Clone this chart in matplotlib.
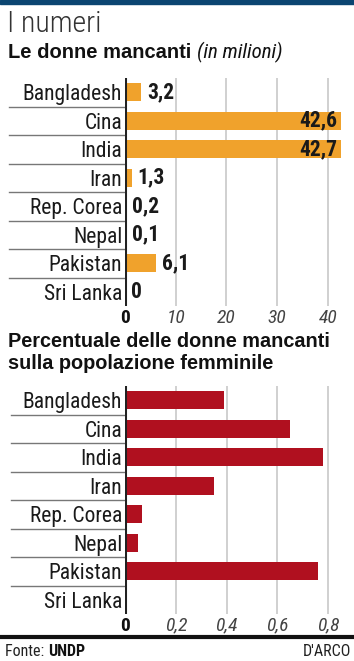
import matplotlib
matplotlib.use("Agg")
import matplotlib.pyplot as plt
import matplotlib.font_manager as fm
import numpy as np

countries = ["Bangladesh", "Cina", "India", "Iran", "Rep. Corea", "Nepal", "Pakistan", "Sri Lanka"]
missing_mln = [3.2, 42.6, 42.7, 1.3, 0.2, 0.1, 6.1, 0.0]
missing_labels = ["3,2", "42,6", "42,7", "1,3", "0,2", "0,1", "6,1", "0"]
missing_pct = [0.39, 0.65, 0.78, 0.35, 0.065, 0.05, 0.76, 0.0]
ticks_top = [0, 10, 20, 30, 40]
ticks_bot = [0, 0.2, 0.4, 0.6, 0.8]
ticklabels_bot = ["0", "0,2", "0,4", "0,6", "0,8"]

# condensed face if we can find one, like the newspaper's Helvetica Condensed
names = {f.name for f in fm.fontManager.ttflist}
FONT = "Liberation Sans"
for cand in ["Roboto Condensed", "Barlow Semi Condensed", "Archivo Narrow",
             "Liberation Sans Narrow", "Asap Condensed"]:
    if cand in names:
        FONT = cand
        break
plt.rcParams["font.family"] = [FONT, "DejaVu Sans"]
HEAD = ["Liberation Sans", "DejaVu Sans"]  # wider bold for the headings

ORANGE = "#f0a22c"
RED = "#b0101f"
W, H = 354, 661
fig = plt.figure(figsize=(W / 100, H / 100), dpi=100)


def px_axes(x0, y0, x1, y1):
    return fig.add_axes([x0 / W, 1 - y1 / H, (x1 - x0) / W, (y1 - y0) / H])


def draw_panel(ax, values, color, xmax, ticks, ticklabels, labels=None):
    y = np.arange(len(countries))
    ax.barh(y, values, height=0.62, color=color, zorder=2)
    ax.set_xlim(0, xmax)
    ax.set_ylim(len(countries) - 0.5, -0.5)
    for t in ticks[1:]:
        ax.axvline(t, color="#c8c8c8", lw=1.2, zorder=1)
    for s in ax.spines.values():
        s.set_visible(False)
    ax.axvline(0, color="#222222", lw=2.2, zorder=3)
    ax.set_yticks(y)
    ax.set_yticklabels(countries, fontsize=15.5, color="#1a1a1a")
    ax.tick_params(axis="y", length=0, pad=2)
    ax.set_xticks(ticks)
    ax.set_xticklabels(ticklabels, fontsize=14, color="#444444", style="italic")
    tl = ax.get_xticklabels()[0]
    tl.set_style("normal")
    tl.set_fontweight("bold")
    tl.set_color("#111111")
    ax.tick_params(axis="x", length=0, pad=2)
    # separators left of the axis
    for i in range(len(countries) - 1):
        ax.plot([-0.53, 0], [i + 0.5, i + 0.5], transform=ax.get_yaxis_transform(),
                color="#777777", lw=1, clip_on=False)
    if labels is not None:
        for i, (v, lab) in enumerate(zip(values, labels)):
            if v > 30:
                ax.text(v - 0.8, i, lab, ha="right", va="center", fontsize=15.5,
                        fontweight="bold", color="#1a1a1a", zorder=4)
            else:
                ax.text(v + 1.2, i, lab, ha="left", va="center", fontsize=15.5,
                        fontweight="bold", color="#1a1a1a", zorder=4)


# top header bar
fig.patches.append(plt.Rectangle((0, 1 - 4 / H), 1, 4 / H, transform=fig.transFigure,
                                 color="#0b4571"))
fig.text(7 / W, 1 - 24 / H, "I numeri", fontsize=21.5, fontweight="light", color="#333333",
         va="center", ha="left")
t1 = fig.text(8 / W, 1 - 58 / H, "Le donne mancanti ", fontsize=14.5, fontweight="bold",
              color="#111111", va="baseline", family=HEAD)
fig.canvas.draw()
bb = t1.get_window_extent()
fig.text(bb.x1 / W, 1 - 58 / H, "(in milioni)", fontsize=15, style="italic",
         color="#111111", va="baseline")

ax1 = px_axes(125, 78, 343, 306)
draw_panel(ax1, missing_mln, ORANGE, 43, ticks_top, [str(t) for t in ticks_top], missing_labels)

fig.text(8 / W, 1 - 347 / H, "Percentuale delle donne mancanti", fontsize=14.3,
         fontweight="bold", color="#111111", va="baseline", family=HEAD)
fig.text(8 / W, 1 - 369 / H, "sulla popolazione femminile", fontsize=14.3,
         fontweight="bold", color="#111111", va="baseline", family=HEAD)

ax2 = px_axes(125, 386, 341, 614)
draw_panel(ax2, missing_pct, RED, 0.85, ticks_bot, ticklabels_bot)

# bottom rule and credits
fig.lines.append(plt.Line2D([0, 1], [1 - 637 / H] * 2, transform=fig.transFigure,
                            color="#111111", lw=3))
t2 = fig.text(5 / W, 1 - 652 / H, "Fonte: ", fontsize=11.5, color="#222222", va="center")
fig.canvas.draw()
bb = t2.get_window_extent()
fig.text(bb.x1 / W, 1 - 652 / H, "UNDP", fontsize=11.5, fontweight="bold",
         color="#111111", va="center")
fig.text(351 / W, 1 - 652 / H, "D'ARCO", fontsize=11.5, color="#222222",
         va="center", ha="right")

fig.savefig("out.png", dpi=100, facecolor="white")
